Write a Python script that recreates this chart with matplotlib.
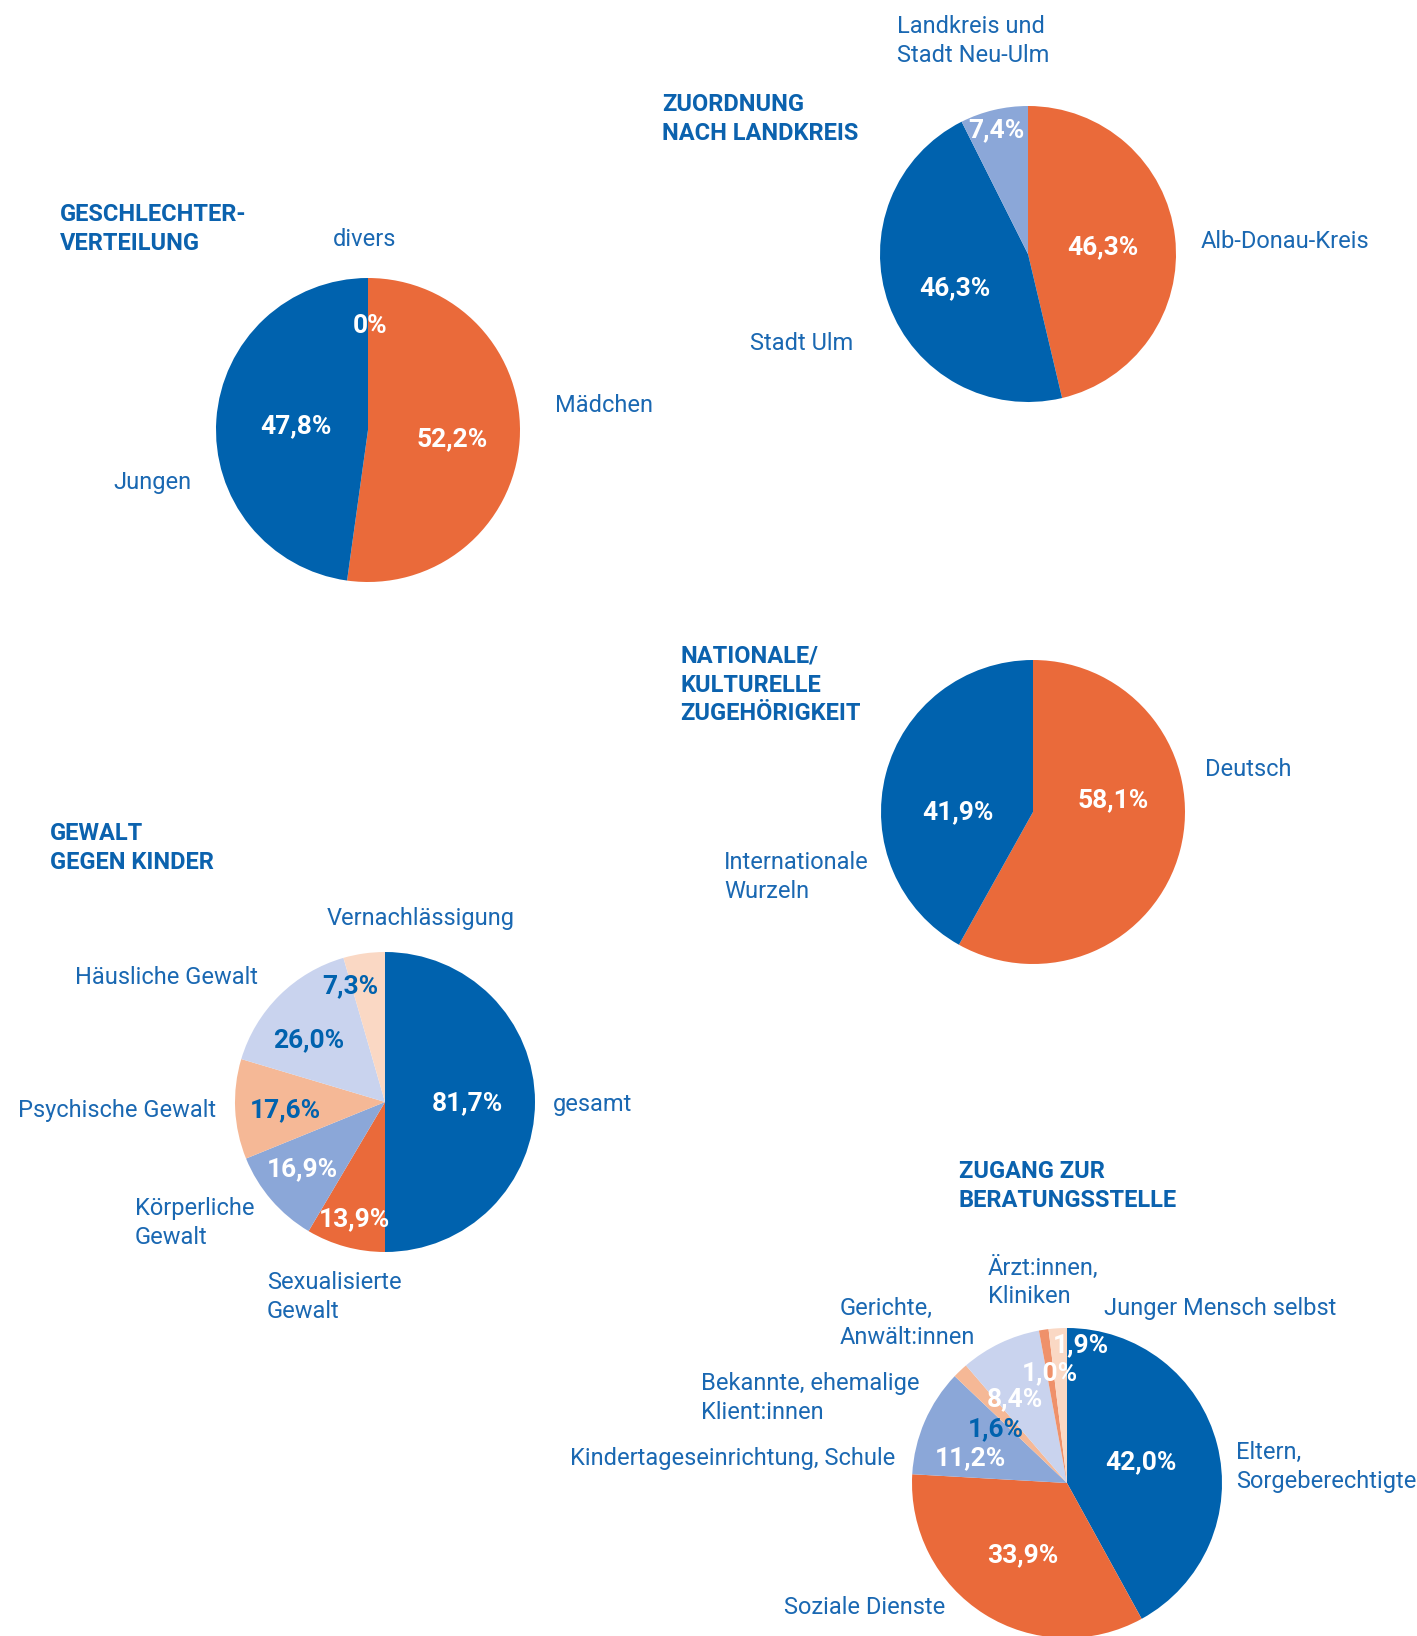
import matplotlib
matplotlib.use("Agg")
import matplotlib.pyplot as plt

# ---------------- data ----------------
gender_labels = ["Mädchen", "Jungen", "divers"]
gender_values = [52.2, 47.8, 0.0]

region_labels = ["Alb-Donau-Kreis", "Stadt Ulm", "Landkreis und\nStadt Neu-Ulm"]
region_values = [46.3, 46.3, 7.4]

nation_labels = ["Deutsch", "Internationale\nWurzeln"]
nation_values = [58.1, 41.9]

violence_labels = ["gesamt", "Sexualisierte\nGewalt", "Körperliche\nGewalt",
                   "Psychische Gewalt", "Häusliche Gewalt", "Vernachlässigung"]
violence_values = [81.7, 13.9, 16.9, 17.6, 26.0, 7.3]

access_labels = ["Eltern,\nSorgeberechtigte", "Soziale Dienste",
                 "Kindertageseinrichtung, Schule", "Bekannte, ehemalige\nKlient:innen",
                 "Gerichte,\nAnwält:innen", "Ärzt:innen,\nKliniken", "Junger Mensch selbst"]
access_values = [42.0, 33.9, 11.2, 1.6, 8.4, 1.0, 1.9]

titles = ["GESCHLECHTER-\nVERTEILUNG", "ZUORDNUNG\nNACH LANDKREIS",
          "NATIONALE/\nKULTURELLE\nZUGEHÖRIGKEIT", "GEWALT\nGEGEN KINDER",
          "ZUGANG ZUR\nBERATUNGSSTELLE"]

def pct(v):
    s = f"{v:.1f}".replace(".", ",") + "%"
    return "0%" if v == 0 else s

# ---------------- style ----------------
W, H = 1417, 1636
DARK = "#0062AE"
ORANGE = "#EA6A3A"
MID = "#8BA7D8"
LORANGE = "#F5B896"
PALE = "#C9D3EE"
PEACH = "#FAD8C4"
SALMON = "#EF916A"
TITLE_C = "#0B62AE"
LABEL_C = "#1A68B2"
FONT = ["Roboto", "DejaVu Sans"]
FS = 17
PFS = 19

fig = plt.figure(figsize=(W / 100, H / 100), dpi=100)
ax = fig.add_axes([0, 0, 1, 1])

def pie(values, colors, cx, cy, r):
    ax.pie(values, colors=colors, startangle=90, counterclock=False,
           center=(cx, H - cy), radius=r, frame=True,
           wedgeprops=dict(linewidth=0, edgecolor="none", antialiased=True))

def txt(x, y, s, ha="left", color=LABEL_C, weight="normal", size=FS):
    ax.text(x, H - y, s, ha=ha, va="center", color=color, fontsize=size,
            fontweight=weight, family=FONT, linespacing=1.32)

# pies (center x, center y in image pixels, radius)
pie(gender_values, [ORANGE, DARK, PEACH], 368, 430, 152)
pie(region_values, [ORANGE, DARK, MID], 1028, 254, 148)
pie(nation_values, [ORANGE, DARK], 1033, 812, 152)
pie(violence_values, [DARK, ORANGE, MID, LORANGE, PALE, PEACH], 385, 1102, 150)
pie(access_values, [DARK, ORANGE, MID, LORANGE, PALE, SALMON, PEACH], 1067, 1483, 155)

# titles
title_pos = [(60, 229), (662, 119), (680, 685), (50, 848), (959, 1186)]
for s, (x, y) in zip(titles, title_pos):
    txt(x, y, s, color=TITLE_C, weight="bold")

# category labels
txt(365, 239, gender_labels[2], ha="center")
txt(555, 406, gender_labels[0])
txt(113, 483, gender_labels[1])

txt(1201, 242, region_labels[0])
txt(750, 344, region_labels[1])
txt(897, 41, region_labels[2])

txt(1205, 770, nation_labels[0])
txt(724, 877, nation_labels[1])

txt(553, 1104, violence_labels[0])
txt(267, 1297, violence_labels[1])
txt(135, 1223, violence_labels[2])
txt(18, 1111, violence_labels[3])
txt(75, 978, violence_labels[4])
txt(327, 918, violence_labels[5])

txt(1236, 1467, access_labels[0])
txt(784, 1608, access_labels[1])
txt(570, 1459, access_labels[2])
txt(701, 1398, access_labels[3])
txt(840, 1323, access_labels[4])
txt(988, 1282, access_labels[5])
txt(1104, 1308, access_labels[6])

# percentage labels
W_ = "white"
gender_pct_pos = [(452, 439, W_), (296, 426, W_), (370, 326, W_)]
for v, (x, y, c) in zip(gender_values, gender_pct_pos):
    txt(x, y, pct(v), ha="center", color=c, weight="bold", size=PFS)

region_pct_pos = [(1103, 247, W_), (955, 288, W_), (996, 130, W_)]
for v, (x, y, c) in zip(region_values, region_pct_pos):
    txt(x, y, pct(v), ha="center", color=c, weight="bold", size=PFS)

nation_pct_pos = [(1113, 800, W_), (958, 812, W_)]
for v, (x, y, c) in zip(nation_values, nation_pct_pos):
    txt(x, y, pct(v), ha="center", color=c, weight="bold", size=PFS)

violence_pct_pos = [(467, 1103, W_), (354, 1219, W_), (302, 1169, W_),
                    (285, 1110, DARK), (309, 1040, DARK), (350, 986, DARK)]
for v, (x, y, c) in zip(violence_values, violence_pct_pos):
    txt(x, y, pct(v), ha="center", color=c, weight="bold", size=PFS)

access_pct_pos = [(1141, 1462, W_), (1023, 1555, W_), (970, 1458, W_),
                  (996, 1429, DARK), (1015, 1399, W_), (1050, 1373, W_), (1081, 1345, W_)]
for v, (x, y, c) in zip(access_values, access_pct_pos):
    txt(x, y, pct(v), ha="center", color=c, weight="bold", size=PFS)

ax.set_xlim(0, W)
ax.set_ylim(0, H)
ax.set_aspect("equal")
ax.axis("off")

fig.savefig("out.png", dpi=100, facecolor="white")
